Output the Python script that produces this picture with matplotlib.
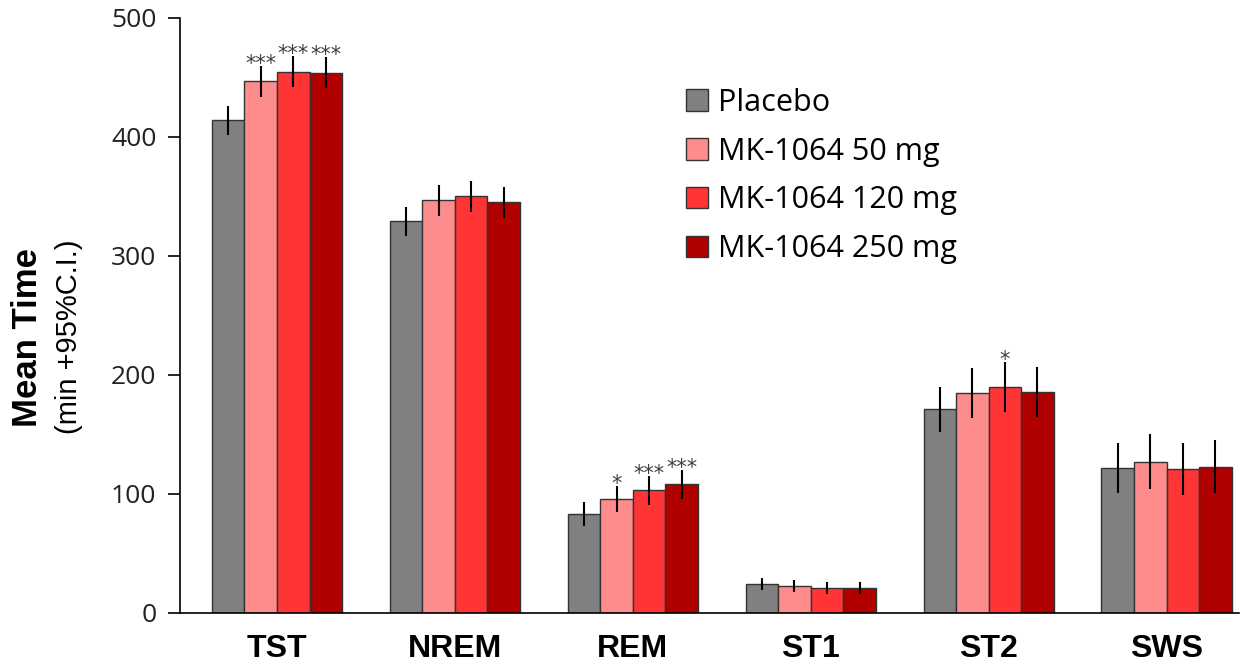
import numpy as np
import matplotlib
matplotlib.use("Agg")
import matplotlib.pyplot as plt

# sleep measures and treatment groups
stages = ["TST", "NREM", "REM", "ST1", "ST2", "SWS"]
groups = ["Placebo", "MK-1064 50 mg", "MK-1064 120 mg", "MK-1064 250 mg"]
colors = ["#808080", "#FF8C8C", "#FF3535", "#B00000"]

# mean time (min) per stage, one list per group
placebo = [414, 329, 83, 24, 171, 122]
mk50 = [447, 347, 96, 23, 185, 127]
mk120 = [455, 350, 103, 21, 190, 121]
mk250 = [454, 345, 108, 21, 186, 123]
means = [placebo, mk50, mk120, mk250]

# half-width of 95% CI
ci_placebo = [12, 12, 10, 5, 19, 21]
ci_mk50 = [13, 13, 11, 5, 21, 23]
ci_mk120 = [13, 13, 12, 5, 21, 22]
ci_mk250 = [13, 13, 12, 5, 21, 22]
cis = [ci_placebo, ci_mk50, ci_mk120, ci_mk250]

# significance marks versus placebo
sig_mk50 = ["***", "", "*", "", "", ""]
sig_mk120 = ["***", "", "***", "", "*", ""]
sig_mk250 = ["***", "", "***", "", "", ""]
sigs = [[""] * 6, sig_mk50, sig_mk120, sig_mk250]

fig = plt.figure(figsize=(12.52, 6.65), dpi=100)
ax = fig.add_axes([0.1438, 0.0782, 0.8462, 0.8948])

x = np.arange(len(stages))
width = 0.183
for i, (g, c) in enumerate(zip(groups, colors)):
    pos = x + (i - 1.5) * width
    ax.bar(pos, means[i], width, color=c, edgecolor="#333333", linewidth=1.0,
           label=g, zorder=2)
    ax.errorbar(pos, means[i], yerr=cis[i], fmt="none", ecolor="black",
                elinewidth=1.5, capsize=0, zorder=3)
    for xp, m, e, s in zip(pos, means[i], cis[i], sigs[i]):
        if s:
            ax.annotate(s, (xp, m + e), xytext=(0, -3), textcoords="offset points",
                        ha="center", va="baseline", fontsize=15, color="#404040",
                        family="DejaVu Sans")

ax.set_xlim(-0.545, 5.41)
ax.set_ylim(0, 500)
ax.set_yticks([0, 100, 200, 300, 400, 500])
ax.set_xticks(x)
ax.set_xticklabels(stages, fontsize=23, fontweight="bold", family="Liberation Sans")
ax.tick_params(axis="x", length=0, pad=15)
ax.tick_params(axis="y", length=9, width=1.2, labelsize=19, pad=8, direction="out")
for lab in ax.get_yticklabels():
    lab.set_family("Open Sans")
    lab.set_color("#222222")

ax.spines["top"].set_visible(False)
ax.spines["right"].set_visible(False)
ax.spines["left"].set_linewidth(1.2)
ax.spines["bottom"].set_linewidth(1.2)

fig.text(0.0216, 0.493, "Mean Time", rotation=90, ha="center", va="center",
         fontsize=25, fontweight="bold", family="Liberation Sans")
fig.text(0.055, 0.493, "(min +95%C.I.)", rotation=90, ha="center", va="center",
         fontsize=21, family="Liberation Sans")

ax.legend(loc="upper left", bbox_to_anchor=(0.478, 0.883), frameon=False,
          prop={"family": "Open Sans", "size": 22}, handlelength=0.7,
          handleheight=0.7, labelspacing=0.62, handletextpad=0.32,
          borderpad=0, borderaxespad=0)

fig.savefig("out.png", dpi=100)
